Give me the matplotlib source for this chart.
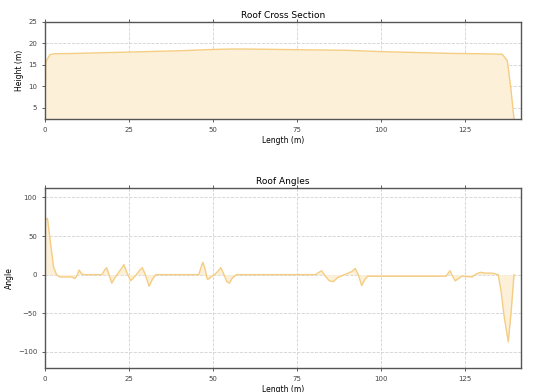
import matplotlib
matplotlib.use("Agg")
import matplotlib.pyplot as plt

# Roof height profile (m) along the length (m)
length_h = [0, 0.3, 1.5, 3, 10, 20, 30, 40, 50, 55, 60, 70, 80, 90, 100,
            110, 120, 130, 136, 137.5, 138.5, 139.5]
height = [2.4, 15.7, 17.4, 17.6, 17.7, 17.9, 18.1, 18.3, 18.6, 18.7, 18.7,
          18.6, 18.5, 18.4, 18.1, 17.9, 17.7, 17.6, 17.5, 16.0, 10.0, 2.4]

# Roof angle along the length
length_a = [0, 0.8, 1.6, 2.6, 3.5, 4.5, 8, 9, 9.6, 10.2, 10.8, 11.5,
            17, 17.8, 18.4, 19.1, 19.9, 20.7, 21.5,
            22.8, 23.5, 24.3, 25.5, 26.4, 27.2,
            28.3, 29, 29.9, 31, 32, 33,
            45.8, 46.5, 47, 47.6, 48.3, 48.9, 49.7, 50.5,
            51.6, 52.3, 53.1, 54.1, 54.9, 55.8, 57,
            80.5, 81.5, 82.3, 83.4, 84.6, 85.8, 87, 88,
            91.3, 92.3, 93.2, 94.2, 95.2, 96,
            119.3, 120.1, 120.5, 121.2, 122, 123, 124,
            127, 128.3, 129.5, 131, 133, 134.8, 135.6, 136.6, 137.8, 138.7,
            139.5]
angle = [70, 73, 45, 10, 0, -3, -3, -5, -1, 6, 2, 0,
         0, 6, 9, 0, -11, -5, 0,
         8, 13, 4, -8, -4, 0,
         6, 9, 0, -15, -6, 0,
         0, 10, 16, 8, -6, -5, -2, 0,
         5, 9, 2, -9, -11, -4, 0,
         0, 3, 5, -2, -8, -9, -4, -2,
         4, 8, 0, -14, -6, -2,
         -2, 3, 5, -2, -8, -5, -2,
         -3, 1, 3, 2, 2, 0, -20, -55, -87, -45,
         0]

xticks = [0, 25, 50, 75, 100, 125]

LINE = "#f5cd82"
FILL = "#fdf0d9"
SPINE = "#555555"


def _style(ax):
    ax.grid(True, color="#d2d2d2", linestyle="--", linewidth=0.6)
    ax.set_axisbelow(True)
    for s in ax.spines.values():
        s.set_color(SPINE)
        s.set_linewidth(1.0)
    ax.tick_params(labelsize=5, length=2, width=0.6, colors="#444444",
                   top=True)
    ax.set_xticks(xticks)
    ax.set_xlim(0, 141.5)


fig = plt.figure(figsize=(5.33, 3.92), dpi=100)
ax1 = fig.add_axes([0.084, 0.696, 0.893, 0.248])
ax2 = fig.add_axes([0.084, 0.061, 0.893, 0.459])

_style(ax1)
ax1.fill_between(length_h, height, color=FILL, lw=0)
ax1.plot(length_h, height, color=LINE, lw=1.0)
ax1.set_ylim(2.4, 25)
ax1.set_yticks([5, 10, 15, 20, 25])
ax1.set_title("Roof Cross Section", fontsize=6.5, pad=3)
ax1.set_xlabel("Length (m)", fontsize=5.5, labelpad=2)
ax1.set_ylabel("Height (m)", fontsize=5.5, labelpad=3)

_style(ax2)
ax2.fill_between(length_a, angle, color=FILL, lw=0)
ax2.plot(length_a, angle, color=LINE, lw=1.0)
ax2.set_ylim(-121, 112)
ax2.set_yticks([-100, -50, 0, 50, 100])
ax2.set_title("Roof Angles", fontsize=6.5, pad=3)
ax2.set_xlabel("Length (m)", fontsize=5.5, labelpad=2)
ax2.set_ylabel("Angle", fontsize=5.5, labelpad=3)

fig.savefig("out.png", dpi=100)
